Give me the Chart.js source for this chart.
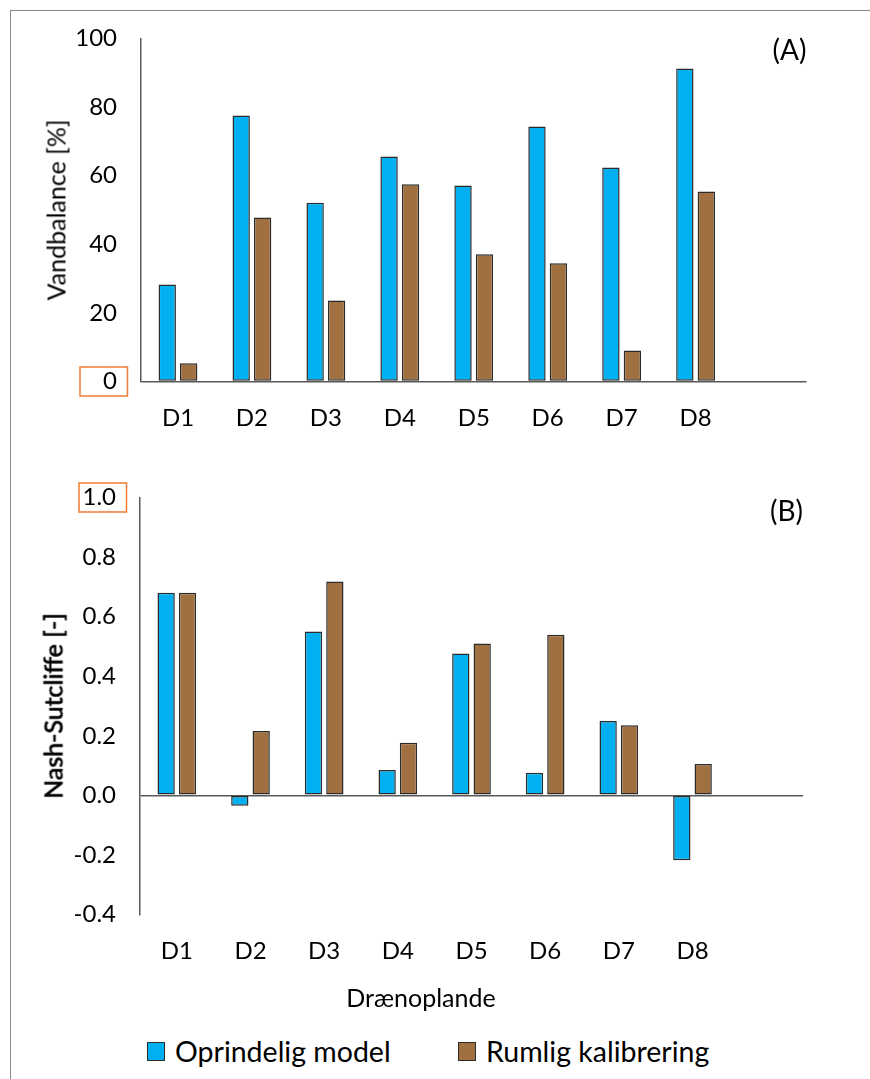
<!DOCTYPE html>
<html>
<head>
<meta charset="utf-8">
<script src="https://cdn.jsdelivr.net/npm/chart.js@4.4.1/dist/chart.umd.min.js"></script>
<style>
  html, body { margin: 0; padding: 0; background: #fff; }
  body { width: 870px; height: 1079px; position: relative; overflow: hidden; font-family: Lato, sans-serif; }
  #frame { position: absolute; left: 10px; top: 10px; width: 900px; height: 1100px;
           border-left: 1.5px solid #8a8a8a; border-top: 1.5px solid #8a8a8a; }
  canvas { position: absolute; left: 0; }
  #chartA { top: 0; }
  #chartB { top: 440px; }
  .ytitle { position: absolute; font-size: 25px; line-height: 1; color: #000; white-space: nowrap;
            transform: translate(-50%, -50%) rotate(-90deg); }
  .ytitle.heavy { -webkit-text-stroke: 0.7px #000; }
  #legend { position: absolute; left: 0; top: 1040px; width: 870px; height: 22px; }
  .item { position: absolute; top: 0; height: 22px; display: flex; align-items: center;
          font-size: 28.5px; color: #000; white-space: nowrap; }
  .swatch { width: 18px; height: 19px; box-sizing: border-box; border: 1.5px solid #2b2b2b; margin-right: 10px; flex: none; }
</style>
</head>
<body>
<div id="frame"></div>
<canvas id="chartA" width="870" height="440"></canvas>
<canvas id="chartB" width="870" height="590"></canvas>
<div class="ytitle" id="titleA" style="left:56px; top:210px;">Vandbalance [%]</div>
<div class="ytitle heavy" id="titleB" style="left:53px; top:706px;">Nash-Sutcliffe [-]</div>
<div id="legend"></div>
<script>
// Catchments (the ninth slot on each axis is left empty)
const categories = ['D1', 'D2', 'D3', 'D4', 'D5', 'D6', 'D7', 'D8'];
const seriesNames = ['Oprindelig model', 'Rumlig kalibrering'];
const seriesColors = ['#00B0F0', '#A07040'];

// (A) water balance error [%]
const vandbalanceOprindelig = [28.3, 77.5, 52.1, 65.6, 57.1, 74.3, 62.4, 91.2];
const vandbalanceRumlig     = [5.3, 47.8, 23.6, 57.5, 37.1, 34.5, 9.0, 55.4];
const vandbalanceTicks = [0, 20, 40, 60, 80, 100];

// (B) Nash-Sutcliffe efficiency [-]
const nashOprindelig = [0.68, -0.035, 0.55, 0.085, 0.476, 0.076, 0.25, -0.218];
const nashRumlig     = [0.68, 0.216, 0.718, 0.177, 0.51, 0.539, 0.235, 0.105];
const nashTicks = [-0.4, -0.2, 0.0, 0.2, 0.4, 0.6, 0.8, 1.0];

const FONT = 'Lato';
const AXIS_COLOR = '#595959';

// Panel letter, outlined tick label and caption under the x axis
const panelDecor = {
  id: 'panelDecor',
  afterDraw(chart, args, opts) {
    const ctx = chart.ctx, area = chart.chartArea, y = chart.scales.y;
    ctx.save();
    ctx.fillStyle = '#000';
    ctx.textBaseline = 'middle';
    ctx.font = '28px ' + FONT;
    ctx.textAlign = 'right';
    ctx.fillText(opts.tag, area.right, area.top + opts.tagOffset);

    const py = y.getPixelForValue(opts.highlight);
    ctx.strokeStyle = '#ED7D31';
    ctx.lineWidth = 1.5;
    ctx.strokeRect(area.left - 61, py - 14.5, 47.5, 29);

    if (opts.captionText) {
      ctx.font = '25px ' + FONT;
      ctx.textAlign = 'center';
      ctx.fillText(opts.captionText, opts.captionX, area.bottom + opts.captionDy);
    }
    ctx.restore();
  }
};

function makeChart(id, o) {
  const barStyle = { borderColor: '#2b2b2b', borderWidth: 1.5, borderSkipped: false,
                     categoryPercentage: 0.58, barPercentage: 0.81 };
  return new Chart(document.getElementById(id), {
    type: 'bar',
    data: {
      labels: categories.concat(['']),
      datasets: [
        Object.assign({ label: seriesNames[0], data: o.first,  backgroundColor: seriesColors[0] }, barStyle),
        Object.assign({ label: seriesNames[1], data: o.second, backgroundColor: seriesColors[1] }, barStyle)
      ]
    },
    options: {
      responsive: false,
      animation: false,
      layout: { padding: { left: 0, right: o.padRight, top: o.padTop, bottom: 0 } },
      plugins: {
        legend: { display: false },
        tooltip: { enabled: false },
        panelDecor: {
          tag: o.tag, tagOffset: o.tagOffset, highlight: o.highlight,
          captionText: o.caption || '', captionX: 421, captionDy: 84
        }
      },
      scales: {
        x: {
          grid: { display: false },
          border: { display: false },
          ticks: { padding: 14, color: '#000', font: { family: FONT, size: 24 }, maxRotation: 0, autoSkip: false },
          afterFit: s => { s.height = o.xHeight; }
        },
        y: {
          min: o.ticks[0],
          max: o.ticks[o.ticks.length - 1],
          afterBuildTicks: s => { s.ticks = o.ticks.map(v => ({ value: v })); },
          ticks: { padding: 24, color: '#000', font: { family: FONT, size: 24 }, callback: v => o.fmt(v) },
          grid: {
            drawTicks: false,
            lineWidth: 1.5,
            color: c => (c.tick && Math.abs(c.tick.value) < 1e-9) ? AXIS_COLOR : 'rgba(0,0,0,0)'
          },
          border: { display: true, color: AXIS_COLOR, width: 1.5 },
          afterFit: s => { s.width = o.axisX; }
        }
      }
    },
    plugins: [panelDecor]
  });
}

makeChart('chartA', {
  first: vandbalanceOprindelig, second: vandbalanceRumlig, ticks: vandbalanceTicks,
  fmt: v => String(Math.round(v)),
  tag: '(A)', tagOffset: 12.5, highlight: 0, axisX: 141, padRight: 63.5, padTop: 37.5, xHeight: 58.5
});

makeChart('chartB', {
  first: nashOprindelig, second: nashRumlig, ticks: nashTicks,
  fmt: v => v.toFixed(1),
  caption: 'Drænoplande',
  tag: '(B)', tagOffset: 14, highlight: 1.0, axisX: 140, padRight: 67, padTop: 57.5, xHeight: 115.5
});

// Legend built from the series names and colours
const legend = document.getElementById('legend');
const legendLeft = [147, 458];
seriesNames.forEach((name, i) => {
  const item = document.createElement('div');
  item.className = 'item';
  item.style.left = legendLeft[i] + 'px';
  const sw = document.createElement('span');
  sw.className = 'swatch';
  sw.style.background = seriesColors[i];
  const txt = document.createElement('span');
  txt.textContent = name;
  item.appendChild(sw);
  item.appendChild(txt);
  legend.appendChild(item);
});
</script>
</body>
</html>
